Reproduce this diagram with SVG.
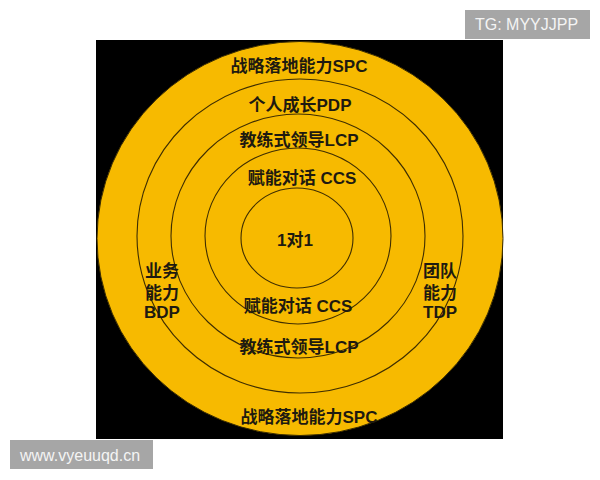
<svg xmlns="http://www.w3.org/2000/svg" width="600" height="480" viewBox="0 0 600 480">
<style>
.ring{fill:none;stroke:#3f2e00;stroke-width:1.1}
.lbl{font-family:"Liberation Sans","Noto Sans CJK SC",sans-serif;font-weight:bold;font-size:17px;fill:#1e1a10;text-anchor:middle}
.wm{font-family:"Liberation Sans",Arial,sans-serif;font-size:16px;fill:#f4f4f4}
</style>
<rect x="0" y="0" width="600" height="480" fill="#ffffff"/>
<rect id="background" x="96" y="40" width="407" height="399" fill="#000000"/>
<g id="ring-outer">
<ellipse cx="300" cy="238.5" rx="203" ry="197" fill="#F7BA00" stroke="#3a2c00" stroke-width="1"/>
<text class="lbl" x="299" y="72">战略落地能力SPC</text>
<text class="lbl" x="309" y="423">战略落地能力SPC</text>
</g>
<g id="ring-pdp">
<ellipse class="ring" cx="300" cy="236" rx="163" ry="157"/>
<text class="lbl" x="300" y="111">个人成长PDP</text>
</g>
<g id="ring-lcp">
<ellipse class="ring" cx="298" cy="236" rx="127" ry="122"/>
<text class="lbl" x="299" y="146">教练式领导LCP</text>
<text class="lbl" x="299" y="353">教练式领导LCP</text>
</g>
<g id="ring-ccs">
<ellipse class="ring" cx="298" cy="236" rx="93" ry="88"/>
<text class="lbl" x="302" y="184">赋能对话 CCS</text>
<text class="lbl" x="298" y="312">赋能对话 CCS</text>
</g>
<g id="core">
<ellipse class="ring" cx="297" cy="238" rx="56" ry="50"/>
<text class="lbl" x="295" y="246">1对1</text>
</g>
<g id="label-bdp">
<text class="lbl" x="162" y="277">业务</text>
<text class="lbl" x="162" y="299">能力</text>
<text class="lbl" x="162" y="318">BDP</text>
</g>
<g id="label-tdp">
<text class="lbl" x="440" y="277">团队</text>
<text class="lbl" x="440" y="299">能力</text>
<text class="lbl" x="440" y="318">TDP</text>
</g>
<g id="watermark-tg">
<rect x="465" y="10" width="125" height="29" fill="#a6a6a6"/>
<text class="wm" x="475" y="30">TG: MYYJJPP</text>
</g>
<g id="watermark-url">
<rect x="10" y="440" width="143" height="29" fill="#a6a6a6"/>
<text class="wm" x="20" y="461">www.vyeuuqd.cn</text>
</g>
</svg>
